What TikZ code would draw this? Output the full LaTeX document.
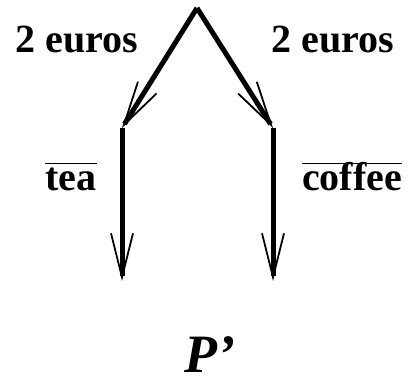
\documentclass[tikz,border=0pt]{standalone}
\usepackage{fontspec}
\setmainfont{Liberation Serif}
\usepackage{tikz}
\usetikzlibrary{arrows.meta}
\newcommand{\ovl}[1]{\setbox0\hbox{#1}\rlap{\rule[26pt]{\wd0}{1.3pt}}\box0}
\tikzset{
  lbl/.style={font=\fontsize{40}{44}\selectfont\bfseries, inner sep=0pt, anchor=base},
  procname/.style={font=\fontsize{54}{58}\selectfont\bfseries\itshape, inner sep=0pt, text depth=0pt, anchor=base},
  tarrow/.style={-{Straight Barb[length=44pt, width=22pt, line width=1.8pt]}, line width=5pt, black}
}
\begin{document}
\begin{tikzpicture}[x=1pt, y=-1pt]
\useasboundingbox (0,0) rectangle (410,385);
\coordinate (root) at (197,8);
\coordinate (stl) at (122,128);
\coordinate (str) at (273,128);
\coordinate (endl) at (122,281);
\coordinate (endr) at (273,281);
\draw[tarrow, line join=miter] (root) -- (stl);
\draw[tarrow, line join=miter] (root) -- (str);
\draw[tarrow] (stl) -- (endl);
\draw[tarrow] (str) -- (endr);
\node[lbl] (payl) at (77,53) {2 euros};
\node[lbl] (payr) at (333,53) {2 euros};
\node[lbl] (tea) at (71,190) {\ovl{tea}};
\node[lbl] (coffee) at (352,190) {\ovl{coffee}};
\node[procname] (proc) at (210,372) {P'};
\end{tikzpicture}
\end{document}
